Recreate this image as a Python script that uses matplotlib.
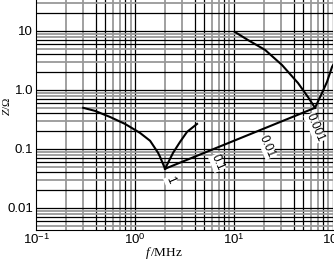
import numpy as np
import matplotlib
matplotlib.use('Agg')
import matplotlib.pyplot as plt

plt.rcParams['mathtext.fontset'] = 'custom'
plt.rcParams['mathtext.rm'] = 'Liberation Sans'
plt.rcParams['mathtext.it'] = 'Liberation Serif:italic'

# impedance curves (f in MHz, Z in ohm)
f_low = [0.299, 0.394, 0.558, 0.792, 1.12, 1.42, 1.71, 1.79, 2.01]
z_low = [0.497, 0.441, 0.348, 0.265, 0.187, 0.137, 0.0855, 0.073, 0.046]
f_rise = [2.01, 2.42, 2.85, 3.35, 4.23]
z_rise = [0.046, 0.0855, 0.1315, 0.194, 0.265]
f_line = [2.01, 65.8]
z_line = [0.046, 0.497]
f_high = [10.2, 13.8, 20.6, 30.5, 44.3, 55.8, 65.8]
z_high = [9.62, 7.03, 4.77, 2.65, 1.31, 0.76, 0.497]
f_tail = [65.8, 77.5, 87.0, 97.7, 107.0]
z_tail = [0.497, 0.89, 1.37, 2.45, 3.2]

# labels along the straight line
line_labels = ['1', '0.1', '0.01', '0.001']
label_f = [2.26, 6.73, 21.5, 65.8]
label_z = [0.030, 0.058, 0.108, 0.227]

xticks = [0.1, 1, 10, 100]
xticklabels = ['$10^{-1}$', '$10^{0}$', '$10^{1}$', '$10^{2}$']
yticks = [0.01, 0.1, 1.0, 10]
yticklabels = ['0.01', '0.1', '1.0', '10']

fig = plt.figure(figsize=(3.34, 2.62), dpi=100)
ax = fig.add_axes([0.108, 0.122, 0.889, 0.878])
ax.set_xscale('log')
ax.set_yscale('log')
ax.set_xlim(0.1, 100)
ax.set_ylim(0.0042, 33.5)

# grid: mix of black and gray lines, like the reference
pattern = ['#999999', '#999999', 'black', 'black', '#999999', '#999999', 'black', '#999999']
for d in [0.1, 1, 10]:
    for i, m in enumerate(range(2, 10)):
        c = pattern[i]
        ax.axvline(d * m, color=c, lw=1.3 if c != 'black' else 0.9, zorder=1)
    ax.axvline(d * 10, color='black', lw=0.9, zorder=1)
ypattern = ['black', '#999999', 'black', '#999999', 'black', 'black', '#999999', '#999999']
for d in [0.001, 0.01, 0.1, 1, 10]:
    ax.axhline(d, color='black', lw=0.9, zorder=1)
    for i, m in enumerate(range(2, 10)):
        c = ypattern[i]
        ax.axhline(d * m, color=c, lw=1.3 if c != 'black' else 0.9, zorder=1)

for fx, zy in [(f_low, z_low), (f_rise, z_rise), (f_line, z_line),
               (f_high, z_high), (f_tail, z_tail)]:
    ax.plot(fx, zy, color='black', lw=1.5, zorder=3, solid_joinstyle='round')

for t, fx, zy in zip(line_labels, label_f, label_z):
    ax.text(fx, zy, t, rotation=-67, fontsize=8.5, family='Liberation Sans',
            ha='center', va='center', zorder=4, rotation_mode='anchor',
            bbox=dict(facecolor='white', edgecolor='none', pad=0.2))

ax.set_xticks(xticks)
ax.set_xticklabels(xticklabels, family='Liberation Sans', fontsize=9.5)
ax.set_yticks(yticks)
ax.set_yticklabels(yticklabels, family='Liberation Sans', fontsize=9.5)
ax.xaxis.set_minor_locator(matplotlib.ticker.NullLocator())
ax.yaxis.set_minor_locator(matplotlib.ticker.NullLocator())
ax.tick_params(length=0, pad=2)
for s in ['top', 'right']:
    ax.spines[s].set_visible(False)

ax.set_xlabel('$f\\,$/MHz', family='Liberation Serif', fontsize=9.5)
ax.xaxis.label.set_va('center')
ax.xaxis.set_label_coords(0.431, -0.098)
ax.set_ylabel('$Z$/Ω', family='Liberation Serif', fontsize=8)
ax.yaxis.label.set_va('center')
ax.yaxis.set_label_coords(-0.101, 0.535)

fig.savefig('out.png', dpi=100)
